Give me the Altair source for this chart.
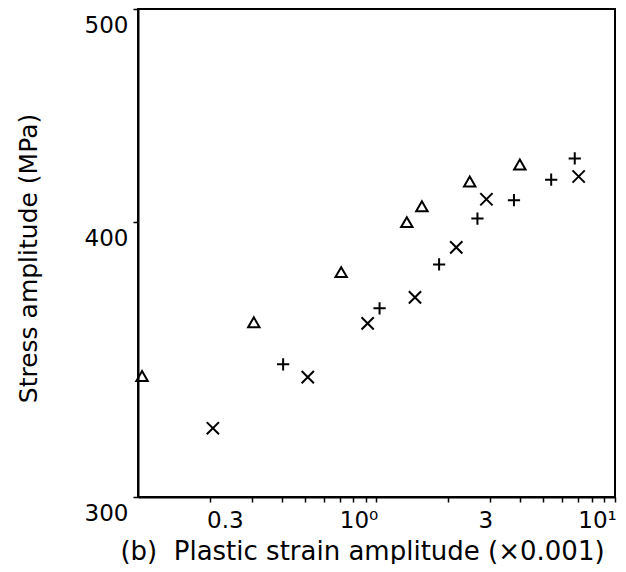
import altair as alt
import pandas as pd

# Triangles
tri_x = [0.104, 0.306, 0.711, 1.34, 1.55, 2.46, 3.99]
tri_y = [340.5, 360.2, 379.6, 400.0, 406.7, 417.4, 424.9]
# Plus
plus_x = [0.406, 1.03, 1.83, 2.65, 3.77, 5.40, 6.78]
plus_y = [344.7, 365.5, 382.7, 401.5, 409.3, 418.2, 427.6]
# Cross
cross_x = [0.206, 0.515, 0.918, 1.45, 2.16, 2.89, 7.04]
cross_y = [322.4, 340.1, 359.8, 369.7, 389.6, 409.7, 419.6]

x_ticks = [0.2, 0.3, 0.4, 0.5, 0.6, 0.7, 0.8, 0.9, 1, 2, 3, 4, 5, 6, 7, 8, 9, 10]
y_ticks = [300, 400, 500]

FONT = "DejaVu Sans"

tri = pd.DataFrame({"x": tri_x, "y": tri_y})
plus = pd.DataFrame({"x": plus_x, "y": plus_y})
cross = pd.DataFrame({"x": cross_x, "y": cross_y})

xenc = alt.X(
    "x:Q",
    scale=alt.Scale(type="log", domain=[0.1, 10], nice=False),
    axis=alt.Axis(
        values=x_ticks,
        labelExpr="datum.value == 0.3 ? '0.3' : datum.value == 1 ? '10⁰' : datum.value == 3 ? '3' : datum.value == 10 ? '10¹' : ''",
        title="(b)\u00a0\u00a0Plastic strain amplitude (×0.001)",
        titleX=224,
        titleY=54,
        titleBaseline="middle",
        titleAnchor="middle",
        titleFontSize=26,
        labelPadding=7,
        labelOffset={"condition": [
            {"test": "datum.value < 0.5", "value": -27},
            {"test": "datum.value < 2", "value": -18},
            {"test": "datum.value < 5", "value": -5}],
            "value": -18},
    ),
)
yenc = alt.Y(
    "y:Q",
    scale=alt.Scale(type="log", domain=[300, 500], nice=False),
    axis=alt.Axis(
        values=y_ticks,
        format="d",
        title="Stress amplitude (MPa)",
        titleX=-110,
        titleY=249,
        titleBaseline="middle",
        titleFontSize=25,
        labelOffset=16,
        labelPadding=5,
    ),
)

base_mark = dict(filled=False, stroke="black", strokeWidth=2, opacity=1)

l_tri = alt.Chart(tri).mark_point(shape="triangle-up", size=130, **base_mark).encode(x=xenc, y=yenc)
l_plus = alt.Chart(plus).mark_point(shape="M-1,0L1,0M0,-1L0,1", size=150, **base_mark).encode(x=xenc, y=yenc)
l_cross = alt.Chart(cross).mark_point(shape="M-1,-1L1,1M-1,1L1,-1", size=150, **base_mark).encode(x=xenc, y=yenc)

chart = alt.layer(l_tri, l_plus, l_cross).properties(
    width=477,
    height=488,
    autosize=alt.AutoSizeParams(type="none"),
    padding={"left": 130, "top": 1, "right": 3, "bottom": 67},
    background="white",
).configure_view(
    stroke="black", strokeWidth=2
).configure_axis(
    grid=False,
    domainColor="black",
    domainWidth=2,
    tickColor="black",
    tickWidth=1.5,
    tickSize=5,
    labelFont=FONT,
    labelFontSize=23,
    labelColor="black",
    labelFlush=False,
    labelOverlap=False,
    labelBound=False,
    titleFont=FONT,
    titleFontWeight="normal",
    titleColor="black",
)

chart.save("out.html", embed_options={"renderer": "svg", "actions": False})
